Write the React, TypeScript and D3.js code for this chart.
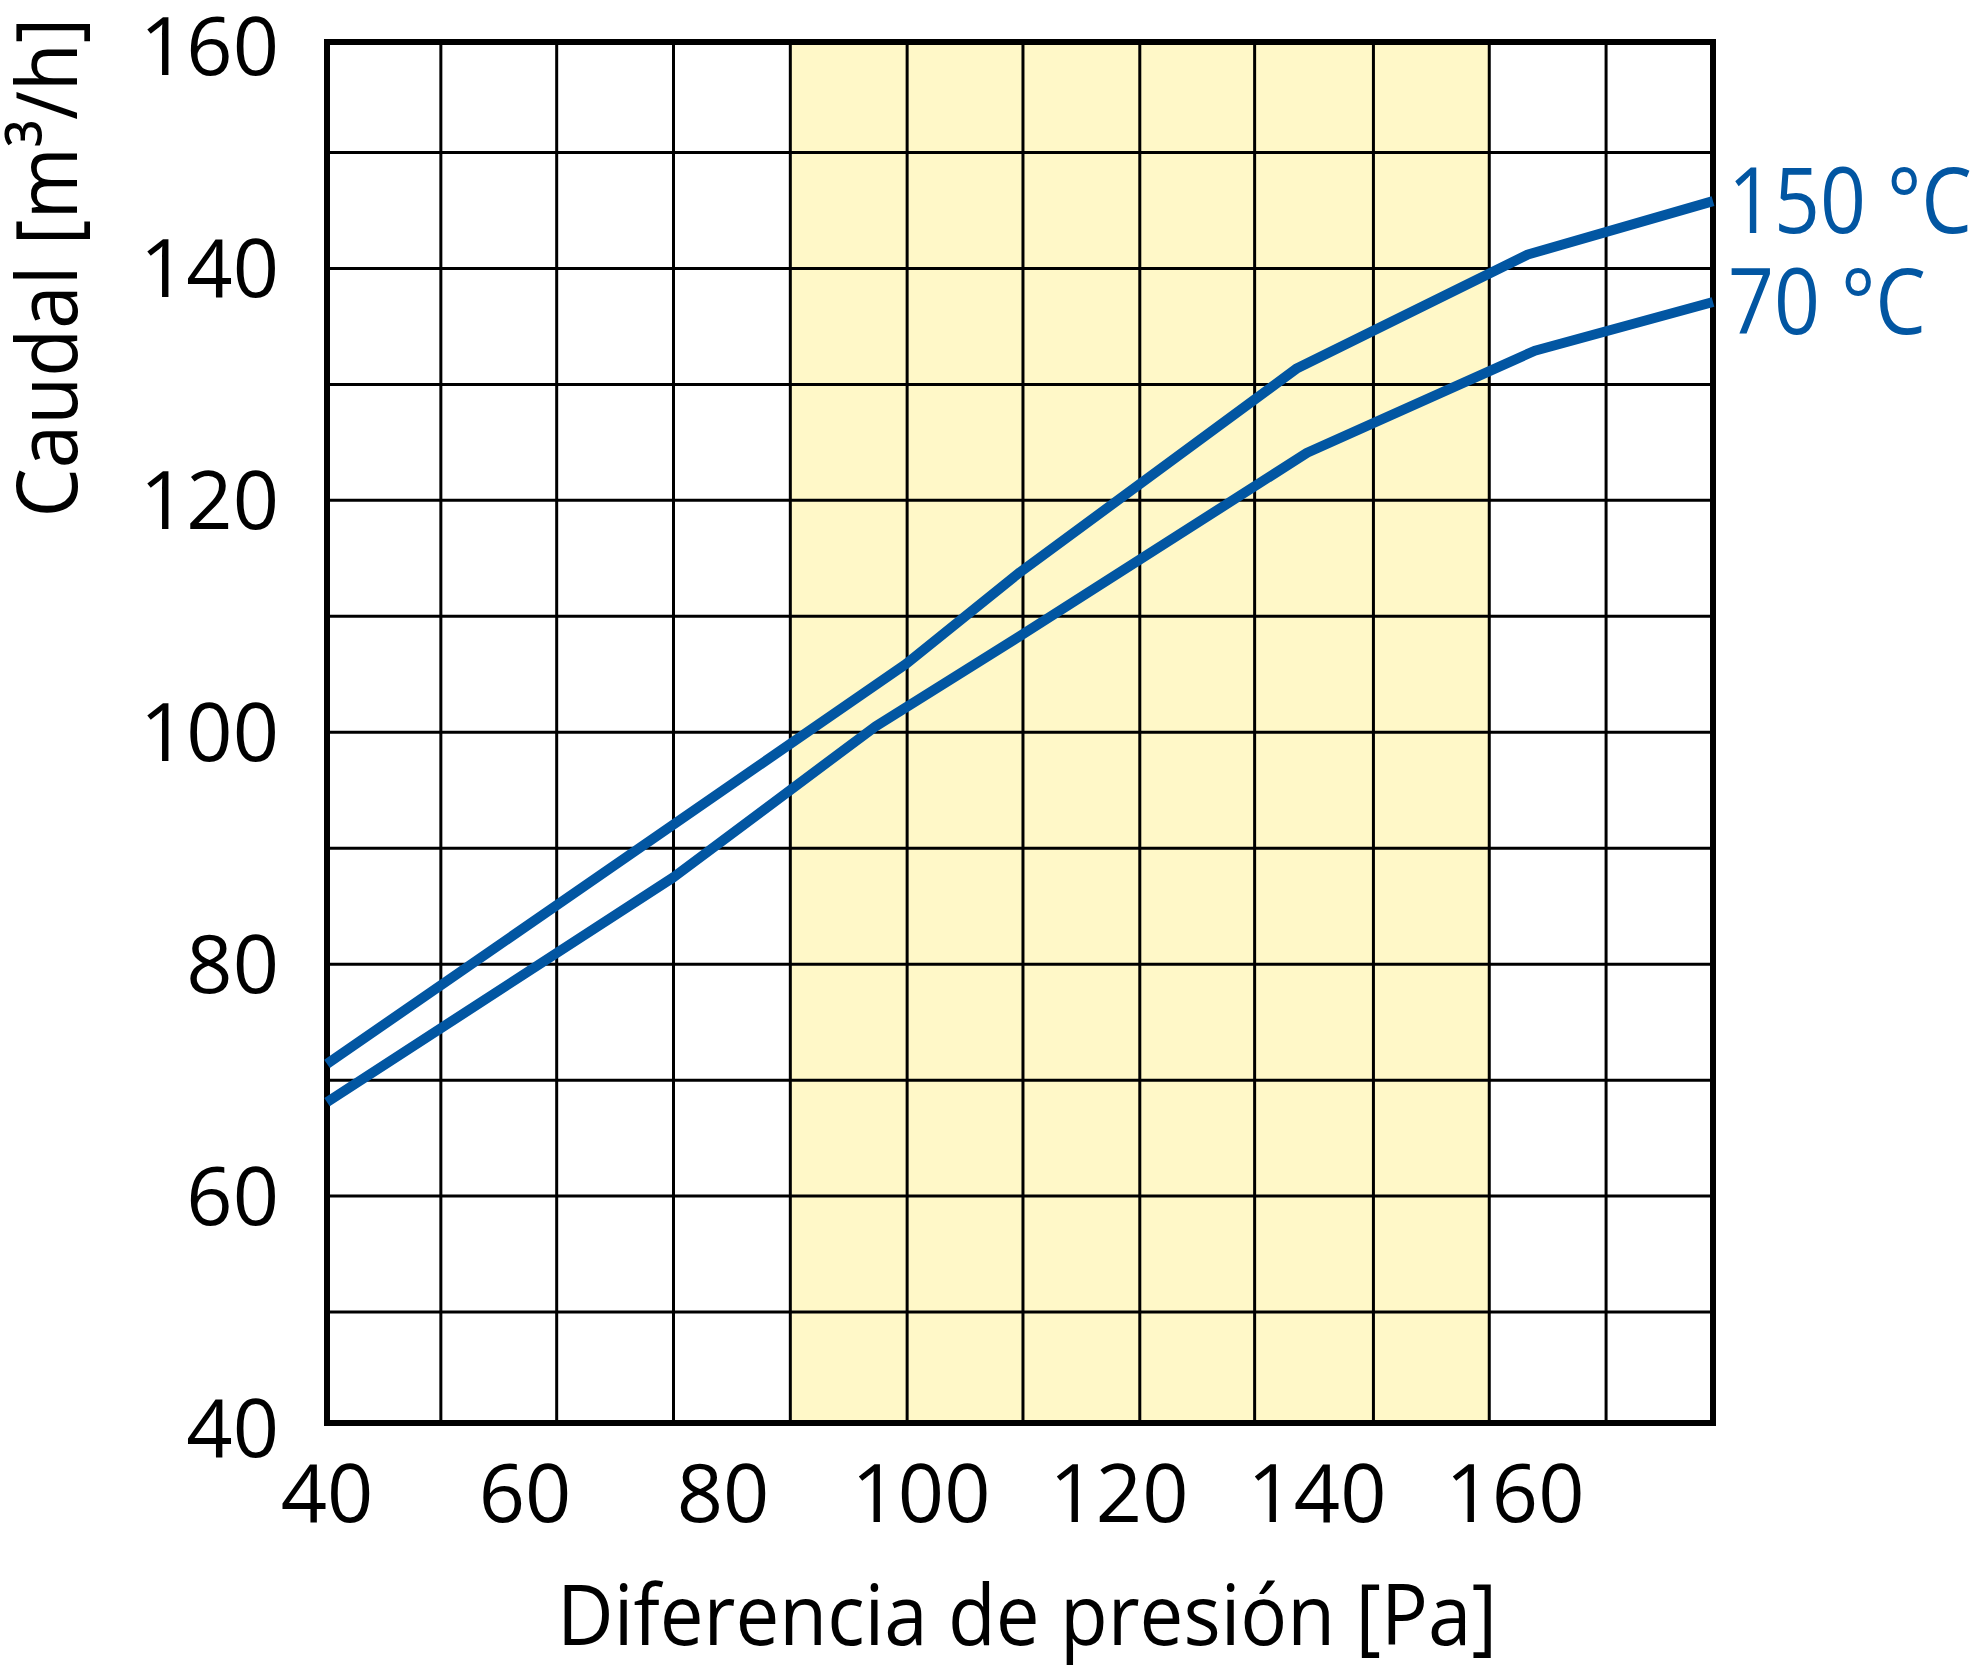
import React from 'react';
import * as d3 from 'd3';

// ---- data ----
const xDomain: [number, number] = [40, 180];
const yDomain: [number, number] = [40, 160];
const xTickValues = [40, 60, 80, 100, 120, 140, 160];
const yTickValues = [40, 60, 80, 100, 120, 140, 160];
const xGridValues = [51.5, 63.2, 75.0, 86.8, 98.6, 110.3, 122.1, 133.7, 145.7, 157.4, 169.2];
const yGridValues = [50, 60, 70, 80, 90, 100, 110, 120, 130, 140, 150];
const bandRange = [86.8, 157.4];
const seriesNames = ['150 °C', '70 °C'];
const pressure150 = [40, 98.5, 110, 138, 161.3, 180];
const flow150 = [71.4, 105.9, 113.8, 131.4, 141.2, 145.8];
const pressure70 = [40, 75, 95.4, 110, 139, 162, 180];
const flow70 = [68.1, 87.5, 100.5, 108.3, 124.1, 132.9, 137.1];
const xTitle = 'Diferencia de presión [Pa]';
const yTitle = 'Caudal [m³/h]';

const BLUE = '#0256a2';
const YELLOW = '#fff8c8';
const FONT = "'Open Sans', 'Noto Sans', sans-serif";

export default function App() {
  const W = 1974;
  const H = 1667;
  const frame = { left: 327, right: 1713, top: 42, bottom: 1423 };
  const x = d3.scaleLinear().domain(xDomain).range([frame.left, frame.right]);
  const y = d3.scaleLinear().domain(yDomain).range([1428, 36.5]);
  const line = d3
    .line<[number, number]>()
    .x((d) => x(d[0]))
    .y((d) => y(d[1]));

  const series = [
    { name: seriesNames[0], pts: pressure150.map((p, i) => [p, flow150[i]] as [number, number]), len: 244 },
    { name: seriesNames[1], pts: pressure70.map((p, i) => [p, flow70[i]] as [number, number]), len: 198 },
  ];

  return (
    <svg
      width={W}
      height={H}
      style={{ position: 'absolute', left: 0, top: 0, display: 'block' }}
      fontFamily={FONT}
    >
      <rect x={0} y={0} width={W} height={H} fill="#fff" />
      <rect
        x={x(bandRange[0])}
        y={frame.top}
        width={x(bandRange[1]) - x(bandRange[0])}
        height={frame.bottom - frame.top}
        fill={YELLOW}
      />
      {xGridValues.map((v) => (
        <line key={'gx' + v} x1={x(v)} x2={x(v)} y1={frame.top} y2={frame.bottom} stroke="#000" strokeWidth={3} />
      ))}
      {yGridValues.map((v) => (
        <line key={'gy' + v} x1={frame.left} x2={frame.right} y1={y(v)} y2={y(v)} stroke="#000" strokeWidth={3} />
      ))}
      <rect
        x={frame.left}
        y={frame.top}
        width={frame.right - frame.left}
        height={frame.bottom - frame.top}
        fill="none"
        stroke="#000"
        strokeWidth={6}
      />
      {series.map((s) => (
        <path key={s.name} d={line(s.pts) || ''} fill="none" stroke={BLUE} strokeWidth={10} strokeLinejoin="round" />
      ))}
      {series.map((s) => {
        const last = s.pts[s.pts.length - 1];
        return (
          <text
            key={'lbl' + s.name}
            x={x(last[0]) + 15}
            y={y(last[1]) + 32}
            fontSize={91}
            fill={BLUE}
            textLength={s.len}
            lengthAdjust="spacingAndGlyphs"
          >
            {s.name}
          </text>
        );
      })}
      {yTickValues.map((v) => (
        <text key={'ty' + v} x={279} y={Math.max(y(v) + 29, 75)} fontSize={81} textAnchor="end" fill="#000">
          {v}
        </text>
      ))}
      {xTickValues.map((v) => (
        <text key={'tx' + v} x={x(v)} y={1522} fontSize={81} textAnchor="middle" fill="#000">
          {v}
        </text>
      ))}
      <text x={1027} y={1645} fontSize={85} textAnchor="middle" fill="#000" textLength={940} lengthAdjust="spacingAndGlyphs">
        {xTitle}
      </text>
      <text
        transform="translate(77, 267.5) rotate(-90)"
        fontSize={85}
        textAnchor="middle"
        fill="#000"
        textLength={500}
        lengthAdjust="spacingAndGlyphs"
      >
        {yTitle}
      </text>
    </svg>
  );
}
